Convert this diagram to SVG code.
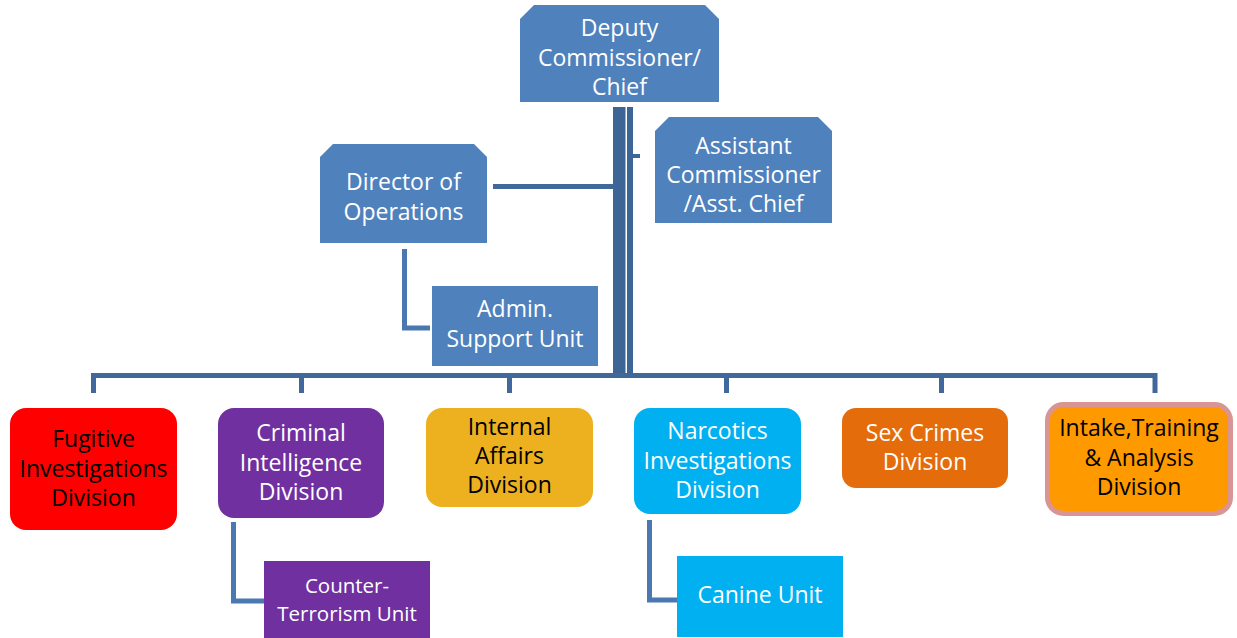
<svg xmlns="http://www.w3.org/2000/svg" width="1237" height="638" viewBox="0 0 1237 638">
  <defs>
    <style>
      text { font-family: "Open Sans", "Liberation Sans", sans-serif; font-size: 23px; text-anchor: middle; }
      .w { fill: #ffffff; }
      .k { fill: #000000; }
      .hq { fill: #4F81BD; }
      .bar { fill: #3D6697; }
      .bus { fill: none; stroke: #41689B; stroke-width: 5; }
      .sub { fill: none; stroke: #4A79B2; stroke-width: 5; }
    </style>
  </defs>

  <rect width="1237" height="638" fill="#ffffff"/>

  <!-- connectors -->
  <g id="connectors">
    <!-- main trunk (double bar) -->
    <rect class="bar" x="613" y="107" width="12.5" height="271"/>
    <rect class="bar" x="627" y="107" width="6" height="271"/>
    <rect class="bar" x="627" y="154" width="13" height="4"/>
    <!-- director link -->
    <line class="bus" x1="493" y1="186.5" x2="614" y2="186.5"/>
    <!-- division bus -->
    <path class="bus" d="M93.5 393 V375.5 H1155 V393"/>
    <line class="bus" x1="301.5" y1="375.5" x2="301.5" y2="393"/>
    <line class="bus" x1="509.5" y1="375.5" x2="509.5" y2="393"/>
    <line class="bus" x1="726.5" y1="375.5" x2="726.5" y2="393"/>
    <line class="bus" x1="941.5" y1="375.5" x2="941.5" y2="393"/>
    <!-- sub-unit elbows -->
    <path class="sub" d="M404.5 249 V328 H430"/>
    <path class="sub" d="M233.5 522 V601 H264"/>
    <path class="sub" d="M649.5 520 V600 H677"/>
  </g>

  <!-- command nodes -->
  <g id="deputy">
    <path class="hq" d="M534 5 H705 L719 19 V102 H520 V19 Z"/>
    <text class="w" x="619.5" y="36">Deputy</text>
    <text class="w" x="619.5" y="65.5">Commissioner/</text>
    <text class="w" x="619.5" y="95">Chief</text>
  </g>

  <g id="assistant">
    <path class="hq" d="M669 117 H818 L832 131 V223 H655 V131 Z"/>
    <text class="w" x="743.5" y="154">Assistant</text>
    <text class="w" x="743.5" y="183">Commissioner</text>
    <text class="w" x="743.5" y="212">/Asst. Chief</text>
  </g>

  <g id="director">
    <path class="hq" d="M333 144 H474 L487 157 V243 H320 V157 Z"/>
    <text class="w" x="403.5" y="190">Director of</text>
    <text class="w" x="403.5" y="220">Operations</text>
  </g>

  <g id="admin">
    <rect class="hq" x="432" y="286" width="166" height="80"/>
    <text class="w" x="515" y="317">Admin.</text>
    <text class="w" x="515" y="347">Support Unit</text>
  </g>

  <!-- divisions -->
  <g id="fugitive">
    <rect x="10" y="408" width="167" height="122" rx="16" fill="#FF0000"/>
    <text class="k" x="93.5" y="447">Fugitive</text>
    <text class="k" x="93.5" y="477">Investigations</text>
    <text class="k" x="93.5" y="506">Division</text>
  </g>

  <g id="criminal">
    <rect x="218" y="408" width="166" height="110" rx="16" fill="#7030A0"/>
    <text class="w" x="301" y="441">Criminal</text>
    <text class="w" x="301" y="471">Intelligence</text>
    <text class="w" x="301" y="500">Division</text>
  </g>

  <g id="internal">
    <rect x="426" y="408" width="167" height="99" rx="16" fill="#EDB120"/>
    <text class="k" x="509.5" y="435">Internal</text>
    <text class="k" x="509.5" y="464">Affairs</text>
    <text class="k" x="509.5" y="493">Division</text>
  </g>

  <g id="narcotics">
    <rect x="634" y="408" width="167" height="106" rx="16" fill="#00B0F0"/>
    <text class="w" x="717.5" y="439">Narcotics</text>
    <text class="w" x="717.5" y="469">Investigations</text>
    <text class="w" x="717.5" y="498">Division</text>
  </g>

  <g id="sexcrimes">
    <rect x="842" y="408" width="166" height="80" rx="14" fill="#E46C0A"/>
    <text class="w" x="925" y="441">Sex Crimes</text>
    <text class="w" x="925" y="470">Division</text>
  </g>

  <g id="intake">
    <rect x="1047.5" y="404.5" width="183" height="109" rx="16" fill="#FF9900" stroke="#D99594" stroke-width="5"/>
    <text class="k" x="1139" y="436">Intake,Training</text>
    <text class="k" x="1139" y="466">&amp; Analysis</text>
    <text class="k" x="1139" y="495">Division</text>
  </g>

  <!-- units -->
  <g id="counterterrorism">
    <rect x="264" y="561" width="166" height="80" fill="#7030A0"/>
    <text class="w" x="347" y="593" style="font-size:20.5px">Counter-</text>
    <text class="w" x="347" y="621" style="font-size:20.5px">Terrorism Unit</text>
  </g>

  <g id="canine">
    <rect x="677" y="556" width="166" height="81" fill="#00B0F0"/>
    <text class="w" x="760" y="603" style="font-size:23px">Canine Unit</text>
  </g>
</svg>
